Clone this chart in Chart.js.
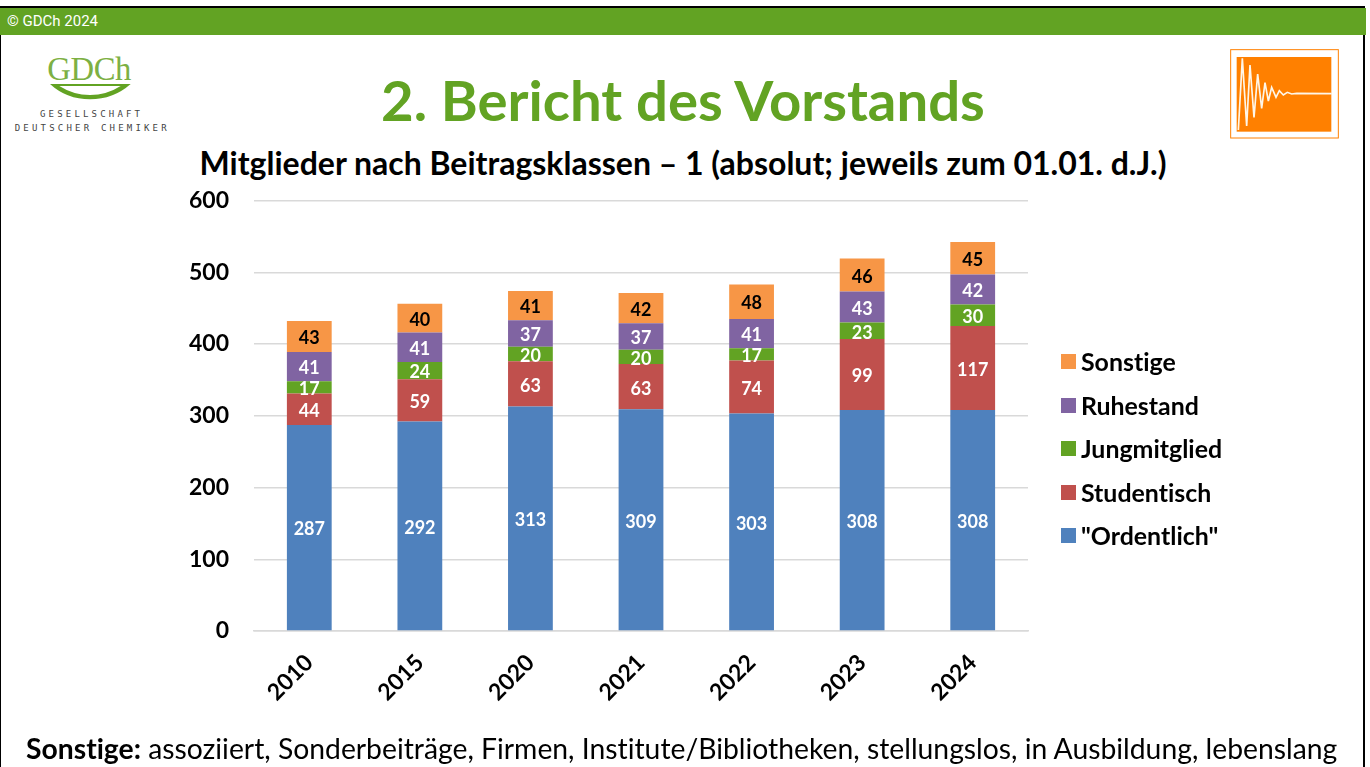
<!DOCTYPE html>
<html lang="de">
<head>
<meta charset="utf-8">
<title>Mitglieder nach Beitragsklassen</title>
<script src="https://cdn.jsdelivr.net/npm/chart.js@4"></script>
<style>
html,body{margin:0;padding:0;background:#fff;overflow:hidden}
body{width:1370px;height:767px;position:relative;font-family:Lato,sans-serif;color:#000;font-variant-ligatures:none}
.abs{position:absolute;white-space:nowrap}
#frame{left:0;top:6px;width:1362px;height:761px;border:solid #000;border-width:2px 2px 0 1px;box-sizing:content-box}
#bar{left:0;top:8px;width:1366px;height:27px;background:#62A323;color:#fff;font:15px/27px Roboto,sans-serif;padding-left:7px;box-sizing:border-box}
#head{left:0;width:1366px;top:66px;text-align:center;font-weight:700;font-size:56.3px;line-height:66px;color:#62A323}
#sub{left:0;width:1366px;top:145px;text-align:center;font-weight:700;font-size:32px;line-height:36px}
#foot{left:26px;top:732px;font-size:28.3px;line-height:32px}
#chartJS{position:absolute;left:0;top:0}
#legend{left:1061px;top:340px}
.item{position:absolute;left:0;height:44px;line-height:44px;font-weight:700;font-size:24.9px}
.item i{position:absolute;left:0;top:14px;width:15px;height:15px}
.item span{position:absolute;left:20px;top:-1px}
svg{position:absolute}
</style>
</head>
<body>
<div class="abs" id="frame"></div>
<div class="abs" id="bar">© GDCh 2024</div>

<svg style="left:0;top:0" width="200" height="140" viewBox="0 0 600 420">
<text x="268" y="240" text-anchor="middle" font-family="Liberation Serif" font-size="98" fill="#7DB043" textLength="252">GDCh</text>
<path d="M150 252H392Q340 298 270 298Q200 298 150 252Z" fill="#62A323"/>
<path d="M178 258H362Q320 285 270 285Q220 285 178 258Z" fill="#fff"/>
<text x="270" y="350" text-anchor="middle" font-family="DejaVu Sans Mono" font-size="27" fill="#444" textLength="300">GESELLSCHAFT</text>
<text x="272" y="393" text-anchor="middle" font-family="DejaVu Sans Mono" font-size="27" fill="#444" textLength="456">DEUTSCHER CHEMIKER</text>
</svg>

<svg style="left:1180px;top:0" width="190" height="160" viewBox="0 0 570 480">
<rect x="152" y="149" width="323" height="265" fill="#fff" stroke="#FF8000" stroke-width="3"/>
<rect x="170" y="171" width="284" height="224" fill="#FF8000"/>
<polyline fill="none" stroke="#FFF6E8" stroke-width="5" points="175,390 187,175 200,378 210,195 222,352 233,222 245,325 255,248 265,303 275,262 288,292 298,272 310,285 322,277 335,282 350,280 455,281"/>
</svg>

<div class="abs" id="head">2. Bericht des Vorstands</div>
<div class="abs" id="sub">Mitglieder nach Beitragsklassen – 1 (absolut; jeweils zum 01.01. d.J.)</div>
<canvas id="chartJS" width="1370" height="767"></canvas>
<div class="abs" id="legend"></div>
<div class="abs" id="foot"><b>Sonstige:</b> assoziiert, Sonderbeiträge, Firmen, Institute/Bibliotheken, stellungslos, in Ausbildung, lebenslang</div>

<script>
const years = ['2010','2015','2020','2021','2022','2023','2024']
const ordentlich = [287,292,313,309,303,308,308]
const studentisch = [44,59,63,63,74,99,117]
const jungmitglied = [17,24,20,20,17,23,30]
const ruhestand = [41,41,37,37,41,43,42]
const sonstige = [43,40,41,42,48,46,45]

const barLabelsPlugin = {
  id: 'barLabels',
  afterDatasetsDraw(chart) {
    const ctx = chart.ctx
    ctx.save()
    ctx.font = '700 18px Lato'
    ctx.textAlign = 'center'
    ctx.textBaseline = 'middle'
    chart.data.datasets.forEach((ds, i) => {
      ctx.fillStyle = ds.labelColor
      chart.getDatasetMeta(i).data.forEach((bar, j) => {
        const mid = (bar.y + bar.base) / 2
        ctx.fillText(ds.data[j], bar.x, mid + 2)
      })
    })
    ctx.restore()
  }
}

const chartMembers = new Chart(document.getElementById('chartJS'), {
  type: 'bar',
  data: {
    labels: years,
    datasets: [
      {label: '"Ordentlich"', data: ordentlich, backgroundColor: '#4F81BD', labelColor: '#fff'},
      {label: 'Studentisch', data: studentisch, backgroundColor: '#C0504D', labelColor: '#fff'},
      {label: 'Jungmitglied', data: jungmitglied, backgroundColor: '#62A323', labelColor: '#fff'},
      {label: 'Ruhestand', data: ruhestand, backgroundColor: '#8064A2', labelColor: '#fff'},
      {label: 'Sonstige', data: sonstige, backgroundColor: '#F79646', labelColor: '#000'}
    ]
  },
  options: {
    responsive: false,
    animation: false,
    layout: {padding: {left: 0, top: 200.5, right: 342, bottom: 0}},
    datasets: {bar: {categoryPercentage: 1, barPercentage: 0.405}},
    scales: {
      x: {
        stacked: true,
        afterFit: (s) => { s.height = 136 },
        grid: {display: false, drawTicks: false},
        border: {color: '#D9D9D9', width: 1.5},
        ticks: {color: '#000', font: {family: 'Lato', weight: '700', size: 23}, minRotation: 45, maxRotation: 45, padding: 18}
      },
      y: {
        stacked: true,
        min: 0,
        max: 600,
        afterFit: (s) => { s.width = 254 },
        grid: {color: '#D9D9D9', lineWidth: 1.5, drawTicks: false},
        border: {display: false},
        ticks: {stepSize: 100, color: '#000', font: {family: 'Lato', weight: '700', size: 23}, padding: 25}
      }
    },
    plugins: {legend: {display: false}, tooltip: {enabled: false}, title: {display: false}}
  },
  plugins: [barLabelsPlugin]
})

// legend in reverse stack order, same as the slide
const legendBox = document.getElementById('legend')
chartMembers.data.datasets.slice().reverse().forEach((ds, i) => {
  const row = document.createElement('div')
  row.className = 'item'
  row.style.top = (i * 43.5) + 'px'
  row.innerHTML = `<i style="background:${ds.backgroundColor}"></i><span>${ds.label}</span>`
  legendBox.appendChild(row)
})
</script>
</body>
</html>
